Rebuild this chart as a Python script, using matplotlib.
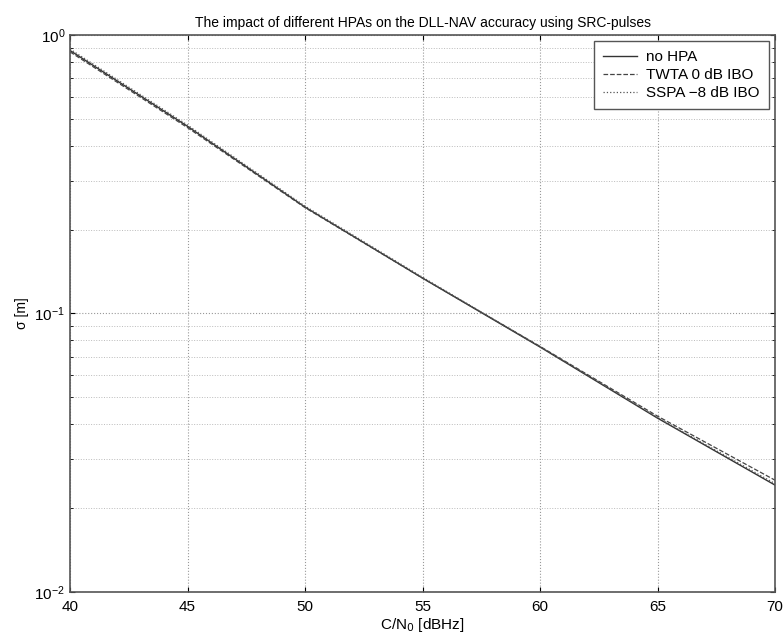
import numpy as np
import matplotlib
matplotlib.use("Agg")
import matplotlib.pyplot as plt

# values (C/N0 in dBHz, sigma in m)
cn0 = [40, 45, 50, 55, 60, 65, 70]
sig_nohpa = [0.88, 0.47, 0.241, 0.134, 0.0758, 0.0421, 0.0242]
sig_twta = [0.87, 0.465, 0.240, 0.134, 0.0762, 0.0428, 0.0252]
sig_sspa = [0.89, 0.475, 0.243, 0.135, 0.0760, 0.0423, 0.0245]

plt.rcParams['font.family'] = ['Liberation Sans', 'DejaVu Sans']

fig = plt.figure(figsize=(7.83, 6.33), dpi=100)
ax = fig.add_axes([0.0894, 0.0648, 0.9004, 0.8799])

ax.semilogy(cn0, sig_nohpa, '-', color='#333333', lw=1.0, label='no HPA')
ax.semilogy(cn0, sig_twta, '--', color='#444444', lw=0.9, label='TWTA 0 dB IBO')
ax.semilogy(cn0, sig_sspa, ':', color='#555555', lw=0.9, label='SSPA \u22128 dB IBO')

ax.set_xlim(40, 70)
ax.set_ylim(1e-2, 1)
ax.set_xticks([40, 45, 50, 55, 60, 65, 70])
ax.grid(True, which='major', ls=':', color='#999999', lw=0.8)
ax.grid(True, which='minor', ls=':', color='#bbbbbb', lw=0.7)
ax.tick_params(which='both', direction='in', top=True, right=True, labelsize=11)
ax.tick_params(axis='x', pad=6)
for s in ax.spines.values():
    s.set_color('#555555')
    s.set_linewidth(1.2)

ax.set_title('The impact of different HPAs on the DLL-NAV accuracy using SRC-pulses', fontsize=10, pad=6)
ax.set_xlabel('C/N$_0$ [dBHz]', fontsize=11, labelpad=1)
ax.set_ylabel('\u03c3 [m]', fontsize=10, labelpad=4)

leg = ax.legend(loc='upper right', fontsize=11, fancybox=False, framealpha=1,
                edgecolor='#555555', handlelength=2.2, borderaxespad=0.4,
                borderpad=0.6, labelspacing=0.25, handletextpad=0.6)
leg.get_frame().set_linewidth(1.0)

fig.savefig('out.png', dpi=100)
